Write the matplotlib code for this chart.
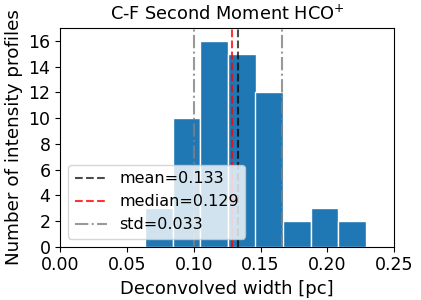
import matplotlib.pyplot as plt
import numpy as np

# histogram
bin_left = [0.0636, 0.0843, 0.1049, 0.1256, 0.1462, 0.1669, 0.1876, 0.2082]
bin_width = 0.02066
counts = [3, 10, 16, 15, 12, 2, 3, 2]

mean_w = 0.133
median_w = 0.129
std_w = 0.033

plt.rcParams['font.size'] = 13

fig, ax = plt.subplots(figsize=(4.21, 3.0), dpi=100)
ax.bar(bin_left, counts, bin_width, align='edge', color='#1f77b4', edgecolor='white', linewidth=1)

ax.axvline(mean_w, color='k', ls='--', alpha=0.7, label='mean=%.3f' % mean_w)
ax.axvline(median_w, color='r', ls='--', alpha=0.8, label='median=%.3f' % median_w)
ax.axvline(mean_w - std_w, color='gray', ls='-.', alpha=0.8, label='std=%.3f' % std_w)
ax.axvline(mean_w + std_w, color='gray', ls='-.', alpha=0.8)

ax.set_xlim(0, 0.25)
ax.set_ylim(0, 17)
ax.set_yticks(np.arange(0, 17, 2))
ax.tick_params(labelsize=12.5)
ax.set_title('C-F Second Moment HCO$^{+}$', fontsize=12.8)
ax.set_xlabel('Deconvolved width [pc]', fontsize=13)
ax.set_ylabel('Number of intensity profiles', fontsize=13.2)
ax.legend(loc='lower left', fontsize=11.5)

fig.subplots_adjust(left=0.143, right=0.936, top=0.906, bottom=0.178)
fig.savefig('out.png', dpi=100)
